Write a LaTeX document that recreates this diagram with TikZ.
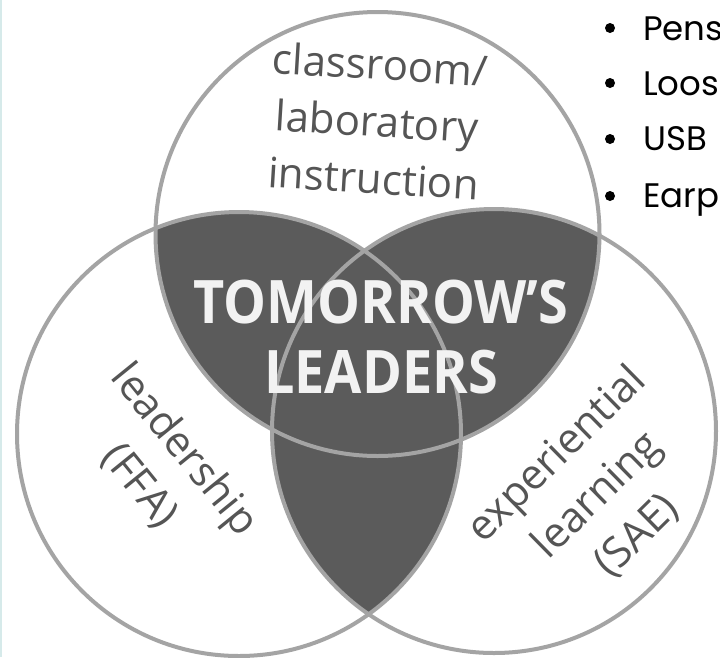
\documentclass[tikz,border=0pt]{standalone}
\usepackage{fontspec}
\setmainfont{Open Sans}
\newfontfamily\listfont{Poppins}
\newfontfamily\bigfont[FakeStretch=0.9]{Open Sans}
\definecolor{darkfill}{HTML}{5B5B5B}
\definecolor{ringgray}{HTML}{A4A4A4}
\definecolor{labelgray}{HTML}{555555}
\definecolor{bigtext}{HTML}{F2F2F2}
\definecolor{edgeteal}{HTML}{D6EAEA}
\tikzset{
  ring/.style={draw=ringgray, line width=4pt},
  lens/.style={fill=darkfill},
  lbl/.style={text=labelgray, align=center, inner sep=0pt, font=\fontsize{42}{57}\selectfont},
  bigtxt/.style={text=bigtext, align=center, inner sep=0pt, font=\bigfont\bfseries\fontsize{60}{70}\selectfont},
  item/.style={anchor=base west, inner sep=0pt, text=black, font=\listfont\fontsize{34}{40}\selectfont},
  dot/.style={circle, fill=black, inner sep=0pt, minimum size=10pt}
}
\begin{document}
\begin{tikzpicture}[x=1pt,y=-1pt]
\useasboundingbox (0,0) rectangle (720,657);
\fill[white] (0,0) rectangle (720,657);
\draw[edgeteal, line width=1.5pt] (0.75,0) -- (0.75,657);
\coordinate (T) at (377.5,234);
\coordinate (L) at (239,434);
\coordinate (R) at (494,431);
% dark overlaps
\begin{scope}
  \clip (T) circle[radius=222pt];
  \fill[lens] (L) circle[radius=222pt];
  \fill[lens] (R) circle[radius=222pt];
\end{scope}
\begin{scope}
  \clip (L) circle[radius=222pt];
  \fill[lens] (R) circle[radius=222pt];
\end{scope}
% outlines
\draw[ring] (T) circle[radius=222pt];
\draw[ring] (L) circle[radius=222pt];
\draw[ring] (R) circle[radius=222pt];
% labels
\node[lbl, rotate=-3.5] (top) at (377,121) {classroom/\\laboratory\\instruction};
\node[lbl, rotate=-51] (ffa) at (162,468) {leadership\\(FFA)};
\node[lbl, rotate=44.5] (sae) at (597,495) {experiential\\learning\\(SAE)};
\node[bigtxt] (tl) at (381,337) {TOMORROW’S\\LEADERS};
% bullet list
\node[dot] (b1) at (610,28) {};
\node[dot] (b2) at (610,83) {};
\node[dot] (b3) at (610,139) {};
\node[dot] (b4) at (610,196) {};
\node[item] (i1) at (643,40) {Pens};
\node[item] (i2) at (643,95) {Loos};
\node[item] (i3) at (643,150) {USB};
\node[item] (i4) at (643,207) {Earp};
\end{tikzpicture}
\end{document}
